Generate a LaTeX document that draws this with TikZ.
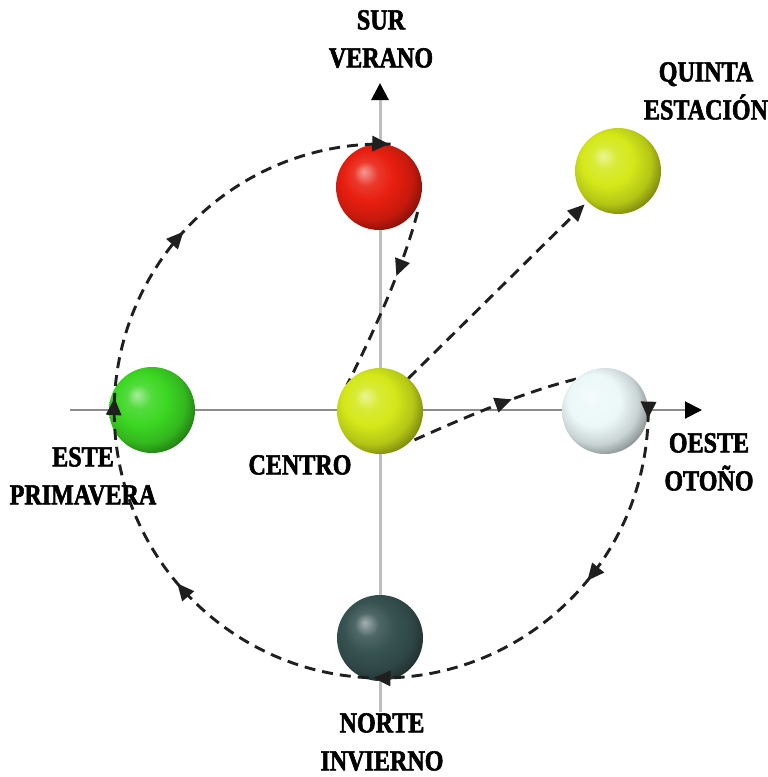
\documentclass[tikz,border=0pt]{standalone}
\usepackage{fontspec}
\newfontfamily\labfont[FakeStretch=0.83,FakeBold=2]{Liberation Serif Bold}
\usetikzlibrary{arrows.meta,decorations.markings,calc}
\definecolor{cRed}{RGB}{232,30,15}
\definecolor{cGreen}{RGB}{60,215,35}
\definecolor{cYel}{RGB}{212,232,25}
\definecolor{cWhite}{RGB}{236,248,248}
\definecolor{cDark}{RGB}{55,82,82}
\definecolor{cVaxis}{RGB}{190,190,190}
\definecolor{cHaxis}{RGB}{140,140,140}
\colorlet{mybc}{red}
\pgfdeclareradialshading[mybc]{myball}{\pgfpoint{-9bp}{9bp}}{%
  color(0bp)=(mybc!45!white);
  color(7bp)=(mybc!88!white);
  color(15bp)=(mybc);
  color(24bp)=(mybc!85!black);
  color(32bp)=(mybc!50!black);
  color(50bp)=(mybc!35!black)}
\tikzset{
  tri/.tip={Triangle[length=17pt,width=15pt]},
  axtip/.tip={Triangle[length=17pt,width=17pt,color=black]},
  lab/.style={font=\labfont\fontsize{29}{38}\selectfont, align=center, inner sep=0pt, anchor=north},
  ballnode/.style={circle, inner sep=0pt, minimum size=86pt, /utils/exec={\colorlet{mybc}{#1}}, shading=myball},
  orbit/.style={draw=black!88, line width=2.9pt, dash pattern=on 11pt off 7pt},
}
\begin{document}
\begin{tikzpicture}[x=1pt,y=1pt]
\useasboundingbox (0,0) rectangle (768,-777);
% axes
\coordinate (vbot) at (380,-712);
\coordinate (vtop) at (380,-83);
\coordinate (hleft) at (70,-410);
\coordinate (hright) at (702,-410);
\draw[cVaxis, line width=3pt, -axtip] (vbot) -- (vtop);
\draw[cHaxis, line width=2pt, -axtip] (hleft) -- (hright);
% ball positions
\coordinate (pR) at (379,-187);
\coordinate (pG) at (152,-410);
\coordinate (pC) at (380,-411);
\coordinate (pW) at (605,-411);
\coordinate (pD) at (380,-638);
\coordinate (pQ) at (618,-171);
% paths behind balls
\draw[orbit, postaction={decorate, decoration={markings, mark=at position 0.36 with {\arrow{tri}}}}]
  ($(pR)+(-33:46)$) .. controls (405,-260) and (380,-320) .. ($(pC)+(142:42)$);
\draw[orbit, postaction={decorate, decoration={markings, mark=at position 0.40 with {\arrow{tri}}}}]
  ($(pC)+(-40:45)$) .. controls (470,-415) and (540,-385) .. (595,-375)
  .. controls (625,-370) and (646,-390) .. ($(pW)+(0:42)$);
% balls
\node[ballnode=cRed] (red) at (pR) {};
\node[ballnode=cGreen] (green) at (pG) {};
\node[ballnode=cYel] (cen) at (pC) {};
\node[ballnode=cWhite] (white) at (pW) {};
\node[ballnode=cDark] (dark) at (pD) {};
\node[ballnode=cYel] (quinta) at (pQ) {};
% big orbit
\draw[orbit, postaction={decorate, decoration={markings,
    mark=at position 0.006 with {\arrow{tri}},
    mark=at position 0.145 with {\arrow{tri}},
    mark=at position 0.337 with {\arrow{tri}},
    mark=at position 0.514 with {\arrow{tri}},
    mark=at position 0.672 with {\arrow{tri}},
    mark=at position 0.817 with {\arrow{tri}},
    mark=at position 0.999 with {\arrow{tri}}}}]
  (white.east) arc[start angle=0, end angle=-272, radius=267];
% to quinta
\draw[orbit, -tri, shorten >=4pt] (cen.49) -- (quinta.225);
% labels
\node[lab] (sur) at (381,-10) {SUR\\VERANO};
\node[lab] (quin) at (706,-62) {QUINTA\\ESTACIÓN};
\node[lab] (este) at (83,-447) {ESTE\\PRIMAVERA};
\node[lab] (centro) at (300,-455) {CENTRO};
\node[lab] (oeste) at (709,-433) {OESTE\\OTOÑO};
\node[lab] (norte) at (382,-713) {NORTE\\INVIERNO};
\end{tikzpicture}
\end{document}
